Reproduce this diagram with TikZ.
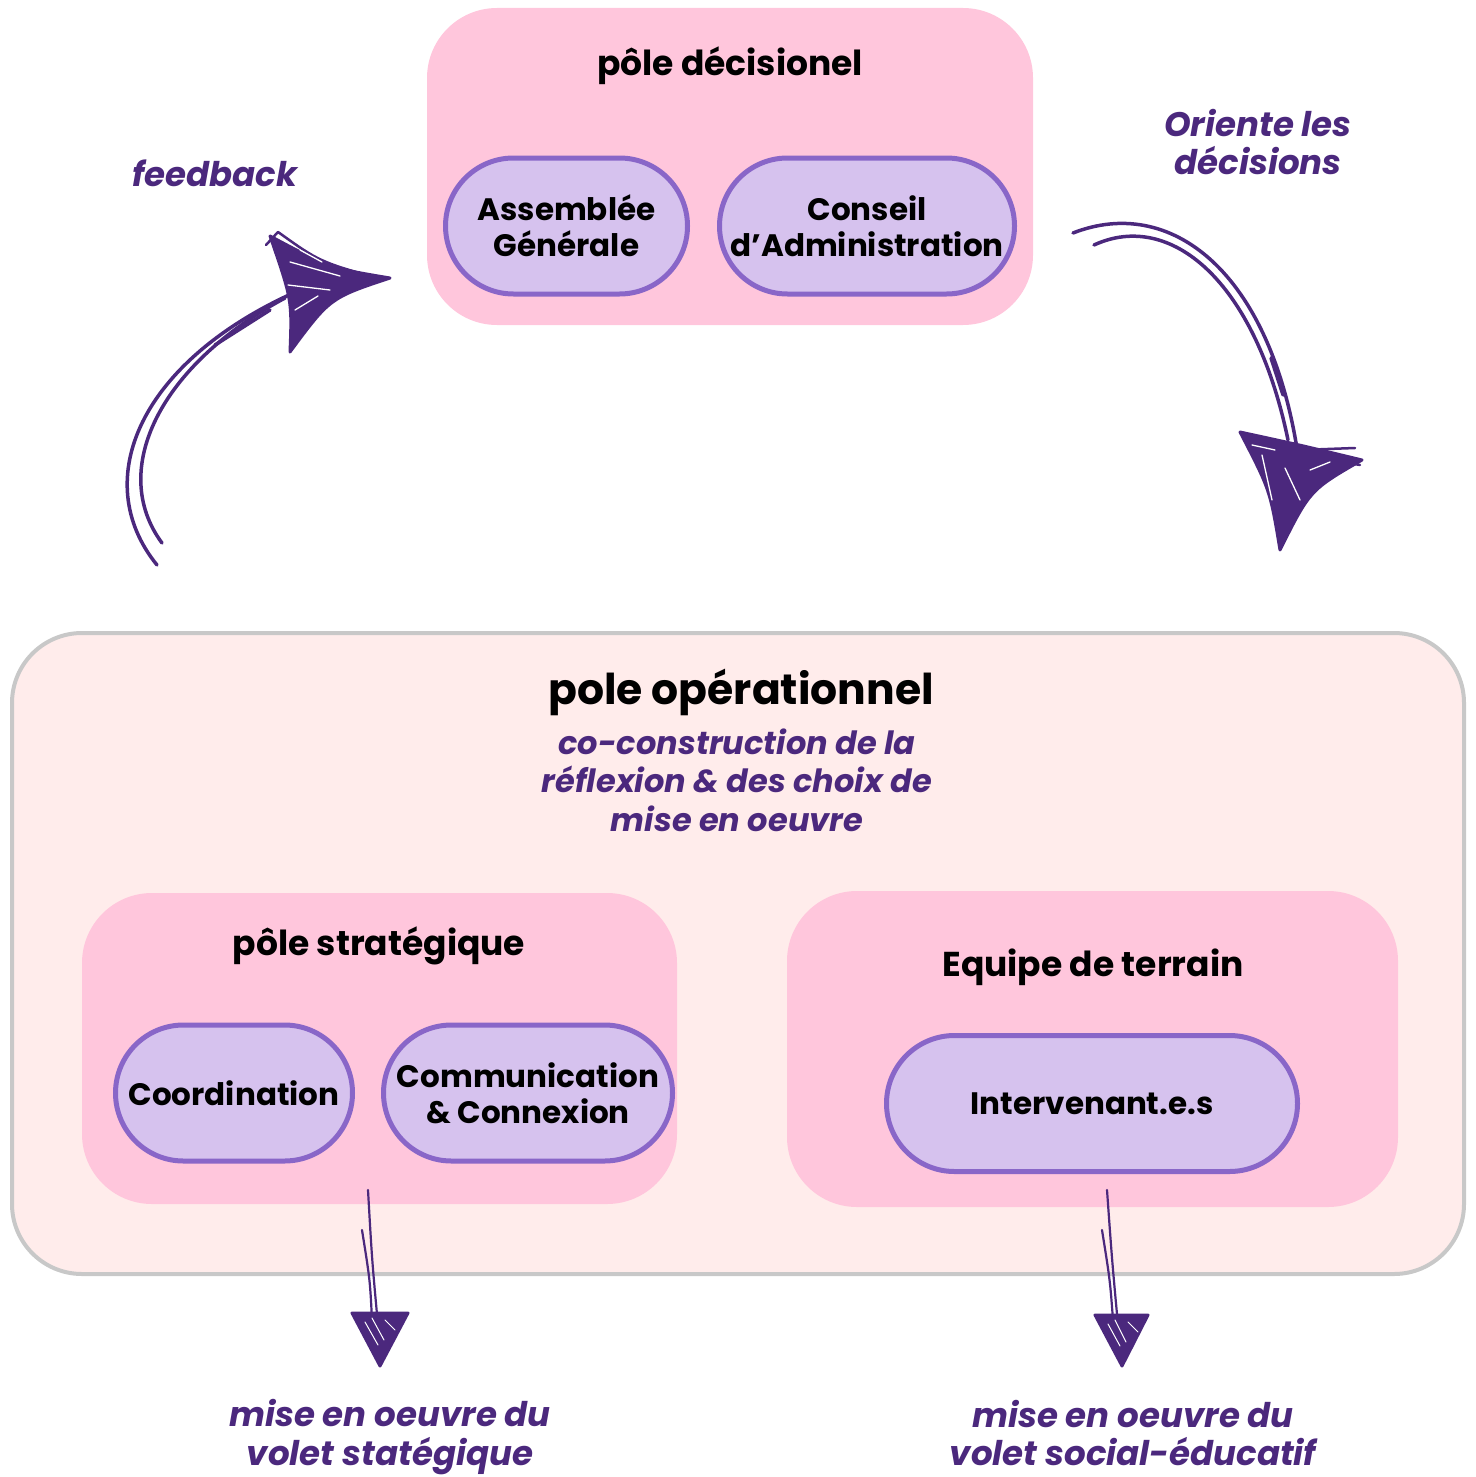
\documentclass[tikz,border=0pt]{standalone}
\usepackage{fontspec}
\setmainfont{Poppins}
\usetikzlibrary{positioning}

\definecolor{poleRose}{HTML}{FFC6DC}
\definecolor{opFond}{HTML}{FFECEB}
\definecolor{opBord}{HTML}{C8C8C8}
\definecolor{pillFond}{HTML}{D6C2EE}
\definecolor{pillBord}{HTML}{8966C8}
\definecolor{violet}{HTML}{4B287D}

\tikzset{
  polebox/.style={fill=poleRose, rounded corners=70pt, inner sep=0pt},
  pill/.style={draw=pillBord, fill=pillFond, line width=5pt, rounded corners=68pt,
    minimum height=136pt, inner sep=0pt, align=center,
    font=\fontsize{31}{36}\selectfont\bfseries},
  titre/.style={font=\fontsize{34.5}{40}\selectfont\bfseries},
  note/.style={text=violet, align=center, font=\fontsize{32}{38.5}\selectfont\bfseries\itshape},
  grandenote/.style={note, font=\fontsize{34}{38.5}\selectfont\bfseries\itshape},
  sketch/.style={draw=violet, line width=3.5pt, line cap=round, line join=round},
  tete/.style={fill=violet, draw=violet, line width=3pt, line join=round},
  hachure/.style={draw=white, line width=1.3pt, line cap=round}
}

\begin{document}
\begin{tikzpicture}[x=1pt, y=-1pt]
  \useasboundingbox (0,0) rectangle (1475,1477);

  % pole decisionel
  \node [polebox, minimum width=606pt, minimum height=317pt] (decision) at (730,166.5) {};
  \node [titre] (decisionT) at (730,66) {pôle décisionel};
  \node [pill, minimum width=242pt] (ag) at (566.5,226) {Assemblée\\Générale};
  \node [pill, minimum width=295pt] (ca) at (867,226) {Conseil\\d’Administration};

  % pole operationnel
  \node [draw=opBord, fill=opFond, line width=4pt, rounded corners=70pt,
         minimum width=1452pt, minimum height=641pt] (operation) at (738,953.5) {};
  \node [font=\fontsize{42.5}{48}\selectfont\bfseries] (operationT) at (741,692) {pole opérationnel};
  \node [note] (coconstr) at (737,780) {co-construction de la\\réflexion \& des choix de\\mise en oeuvre};

  \node [polebox, minimum width=595pt, minimum height=311pt] (strat) at (379.5,1048.5) {};
  \node [titre] (stratT) at (379,946) {pôle stratégique};
  \node [pill, minimum width=237pt] (coord) at (234,1093) {Coordination};
  \node [pill, minimum width=289pt] (comm) at (528,1093) {Communication\\\& Connexion};

  \node [polebox, minimum width=611pt, minimum height=316pt] (terrain) at (1092.5,1049) {};
  \node [titre] (terrainT) at (1093,967) {Equipe de terrain};
  \node [pill, minimum width=411pt] (interv) at (1092,1103.5) {Intervenant.e.s};

  % textes des fleches
  \node [grandenote] (feedback) at (215,173) {feedback};
  \node [grandenote] (oriente) at (1258,142) {Oriente les\\décisions};
  \node [grandenote] (voletS) at (390,1437) {mise en oeuvre du\\volet statégique};
  \node [grandenote] (voletE) at (1133,1433) {mise en oeuvre du\\volet social-éducatif};

  % extremites des fleches
  \coordinate (fbA) at (157,565);
  \coordinate (fbB) at (300,290);
  \coordinate (fbTip) at (390,278);
  \coordinate (orA) at (1073,233);
  \coordinate (orB) at (1298,455);
  \coordinate (orTip) at (1280,550);
  \coordinate (sA) at (368,1190);
  \coordinate (sTip) at (380,1366);
  \coordinate (eA) at (1107,1190);
  \coordinate (eTip) at (1122,1366);

  % fleche feedback
  \draw [sketch] (fbA) .. controls (88,480) and (140,360) .. (fbB);
  \draw [sketch] (162,543) .. controls (108,470) and (160,365) .. (285,298);
  \draw [sketch] (215,345) -- (270,310);
  \draw [tete] (270,236) .. controls (330,268) .. (fbTip) .. controls (330,298) .. (290,352)
       .. controls (292,300) .. cycle;
  \draw [sketch, line width=2.5pt] (266,245) -- (278,232) .. controls (320,262) .. (384,280);
  \draw [hachure] (290,262) -- (340,276) (288,285) -- (330,290) (295,310) -- (318,296)
       (300,250) -- (322,262);

  % fleche oriente
  \draw [sketch] (orA) .. controls (1170,195) and (1270,270) .. (orB);
  \draw [sketch] (1094,245) .. controls (1170,210) and (1255,280) .. (1288,440);
  \draw [sketch] (1271,358) -- (1283,395);
  \draw [tete] (1240,432) .. controls (1300,445) .. (1362,460) .. controls (1310,490) .. (orTip)
       .. controls (1270,490) .. cycle;
  \draw [sketch, line width=2.5pt] (1300,450) -- (1355,448) (1305,455) -- (1360,465);
  \draw [hachure] (1262,455) -- (1272,500) (1285,468) -- (1300,500) (1310,470) -- (1330,462)
       (1252,445) -- (1275,450);

  % fleches du bas
  \draw [sketch, line width=2.2pt] (sA) .. controls (372,1260) .. (378,1325);
  \draw [sketch, line width=2.2pt] (362,1230) .. controls (370,1280) .. (372,1320);
  \draw [tete] (352,1313) -- (408,1313) -- (sTip) -- cycle;
  \draw [hachure, line width=1pt] (365,1322) -- (378,1345) (385,1320) -- (395,1330)
       (372,1318) -- (384,1340);
  \draw [sketch, line width=2.2pt] (eA) .. controls (1112,1260) .. (1118,1325);
  \draw [sketch, line width=2.2pt] (1102,1230) .. controls (1110,1280) .. (1113,1320);
  \draw [tete] (1095,1315) -- (1148,1315) -- (eTip) -- cycle;
  \draw [hachure, line width=1pt] (1108,1324) -- (1120,1346) (1128,1322) -- (1138,1332)
       (1115,1320) -- (1126,1342);
\end{tikzpicture}
\end{document}
